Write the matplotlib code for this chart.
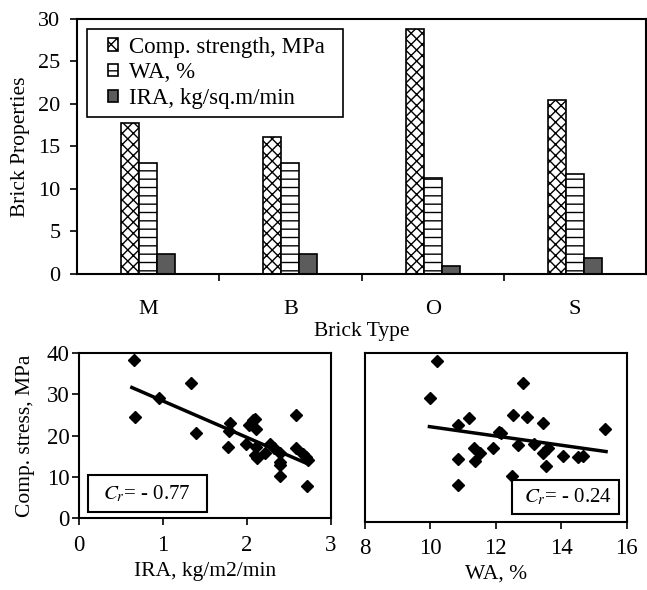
import numpy as np
import matplotlib
matplotlib.use('Agg')
import matplotlib.pyplot as plt
from matplotlib.patches import Rectangle

# bar chart data
brick_types = ['M', 'B', 'O', 'S']
comp_strength = [17.8, 16.1, 28.8, 20.5]
water_abs = [13.0, 13.0, 11.3, 11.7]
ira_rate = [2.3, 2.3, 0.9, 1.8]
series_labels = ['Comp. strength, MPa', 'WA, %', 'IRA, kg/sq.m/min']

# scatter: compressive stress vs IRA
ira_x = [0.65, 0.67, 0.95, 1.33, 1.40, 1.80, 1.79, 1.78, 1.99, 2.03, 2.08, 2.10, 2.11,
         2.11, 2.10, 2.12, 2.22, 2.28, 2.32, 2.40, 2.40, 2.40, 2.40, 2.59, 2.59, 2.67,
         2.71, 2.72, 2.73]
ira_y = [38.2, 24.5, 29.1, 32.7, 20.7, 23.1, 21.1, 17.3, 17.9, 22.5, 23.7, 24.1, 21.5,
         17.3, 15.3, 14.5, 15.8, 17.9, 16.9, 15.7, 13.7, 12.9, 10.3, 24.9, 16.9, 15.5,
         14.7, 7.8, 14.2]
ira_fit_x = [0.63, 2.71]
ira_fit_y = [31.6, 13.3]

# scatter: compressive stress vs WA
wa_x = [10.21, 9.99, 10.85, 11.19, 10.85, 10.85, 11.33, 11.36, 11.53, 11.92, 12.11, 12.15,
        12.48, 12.51, 12.82, 12.69, 12.94, 13.17, 13.43, 13.43, 13.61, 13.53, 14.05, 14.52,
        14.66, 15.34]
wa_y = [38.1, 29.2, 22.9, 24.5, 14.8, 8.7, 17.4, 14.4, 16.2, 17.4, 21.3, 20.9,
        10.9, 25.2, 32.9, 18.1, 24.7, 18.5, 23.3, 16.2, 17.4, 13.2, 15.6, 15.2,
        15.5, 21.9]
wa_fit_x = [9.97, 15.37]
wa_fit_y = [22.5, 16.6]

plt.rcParams['font.family'] = ['Liberation Serif', 'DejaVu Serif']
plt.rcParams['mathtext.fontset'] = 'stix'
plt.rcParams['hatch.linewidth'] = 1.0

fig = plt.figure(figsize=(6.47, 5.90), dpi=100)

# ---- top: grouped bars ----
ax = fig.add_axes([0.119, 0.5364, 0.8795, 0.4314])
x = np.arange(len(brick_types))
w = 0.127
b1 = ax.bar(x - w, comp_strength, w, facecolor='white', edgecolor='black', hatch='xxx', lw=1.2,
            label=series_labels[0])
b2 = ax.bar(x, water_abs, w, facecolor='white', edgecolor='black', hatch='--', lw=1.2,
            label=series_labels[1])
b3 = ax.bar(x + w, ira_rate, w, facecolor='#5c5c5c', edgecolor='black', lw=1.2,
            label=series_labels[2])
ax.set_xlim(-0.5, 3.5)
ax.set_ylim(0, 30)
ax.set_yticks(range(0, 31, 5))
ax.set_xticks(x)
ax.set_xticklabels(brick_types)
ax.set_xticks(np.arange(0.5, 3.5, 1), minor=True)
ax.tick_params(axis='x', which='major', length=0, pad=19, labelsize=16)
ax.tick_params(axis='x', which='minor', length=5, width=1.2, direction='out')
ax.tick_params(axis='y', length=5, width=1.2, pad=7, labelsize=16)
for s in ax.spines.values():
    s.set_linewidth(1.5)
ax.set_ylabel('Brick Properties', fontsize=15.5, labelpad=6)
ax.set_xlabel('Brick Type', fontsize=15.5, labelpad=2)

# legend box drawn separately so its padding can match the original
ax.add_patch(Rectangle((0.017, 0.616), 0.45, 0.3435, transform=ax.transAxes,
                       facecolor='white', edgecolor='black', lw=1.2, zorder=4))
leg = ax.legend(loc='upper left', bbox_to_anchor=(0.054, 0.93), borderaxespad=0,
                fontsize=16.5, handlelength=0.45, handleheight=0.45, handletextpad=0.5,
                labelspacing=0.2, borderpad=0, frameon=False)
leg.set_zorder(5)

# ---- bottom left: stress vs IRA ----
ax1 = fig.add_axes([0.1221, 0.1215, 0.389, 0.2807])
ax1.plot(ira_x, ira_y, 'D', color='black', ms=6)
ax1.plot(ira_fit_x, ira_fit_y, '-', color='black', lw=2.5)
ax1.set_xlim(0, 3)
ax1.set_ylim(0, 40)
ax1.set_xticks([0, 1, 2, 3])
ax1.set_yticks([0, 10, 20, 30, 40])
ax1.tick_params(axis='both', length=5, width=1.2, labelsize=16.5)
ax1.tick_params(axis='y', pad=2)
ax1.tick_params(axis='x', pad=7)
ax1.set_xlabel('IRA, kg/m2/min', fontsize=15.5, labelpad=4)
ax1.set_ylabel('Comp. stress, MPa', fontsize=15.5, labelpad=8)
ax1.add_patch(Rectangle((0.037, 0.04), 0.47, 0.22, transform=ax1.transAxes,
                        facecolor='white', edgecolor='black', lw=1.5, zorder=5))
ax1.text(0.27, 0.15, r'$C_r$= - 0.77', transform=ax1.transAxes, ha='center', va='center',
         fontsize=15, zorder=6)

# ---- bottom right: stress vs WA ----
ax2 = fig.add_axes([0.5641, 0.1158, 0.4045, 0.2864])
ax2.plot(wa_x, wa_y, 'D', color='black', ms=6)
ax2.plot(wa_fit_x, wa_fit_y, '-', color='black', lw=2.5)
ax2.set_xlim(8, 16)
ax2.set_ylim(0, 40)
ax2.set_xticks([8, 10, 12, 14, 16])
ax2.set_yticks([])
ax2.tick_params(axis='x', length=5, width=1.2, labelsize=16.5, pad=7)
ax2.set_xlabel('WA, %', fontsize=15.5, labelpad=4)
ax2.add_patch(Rectangle((0.56, 0.046), 0.412, 0.2, transform=ax2.transAxes,
                        facecolor='white', edgecolor='black', lw=1.5, zorder=5))
ax2.text(0.775, 0.146, r'$C_r$= - 0.24', transform=ax2.transAxes, ha='center', va='center',
         fontsize=15, zorder=6)

for a in (ax1, ax2):
    for s in a.spines.values():
        s.set_linewidth(1.5)

fig.savefig('out.png', dpi=100)
